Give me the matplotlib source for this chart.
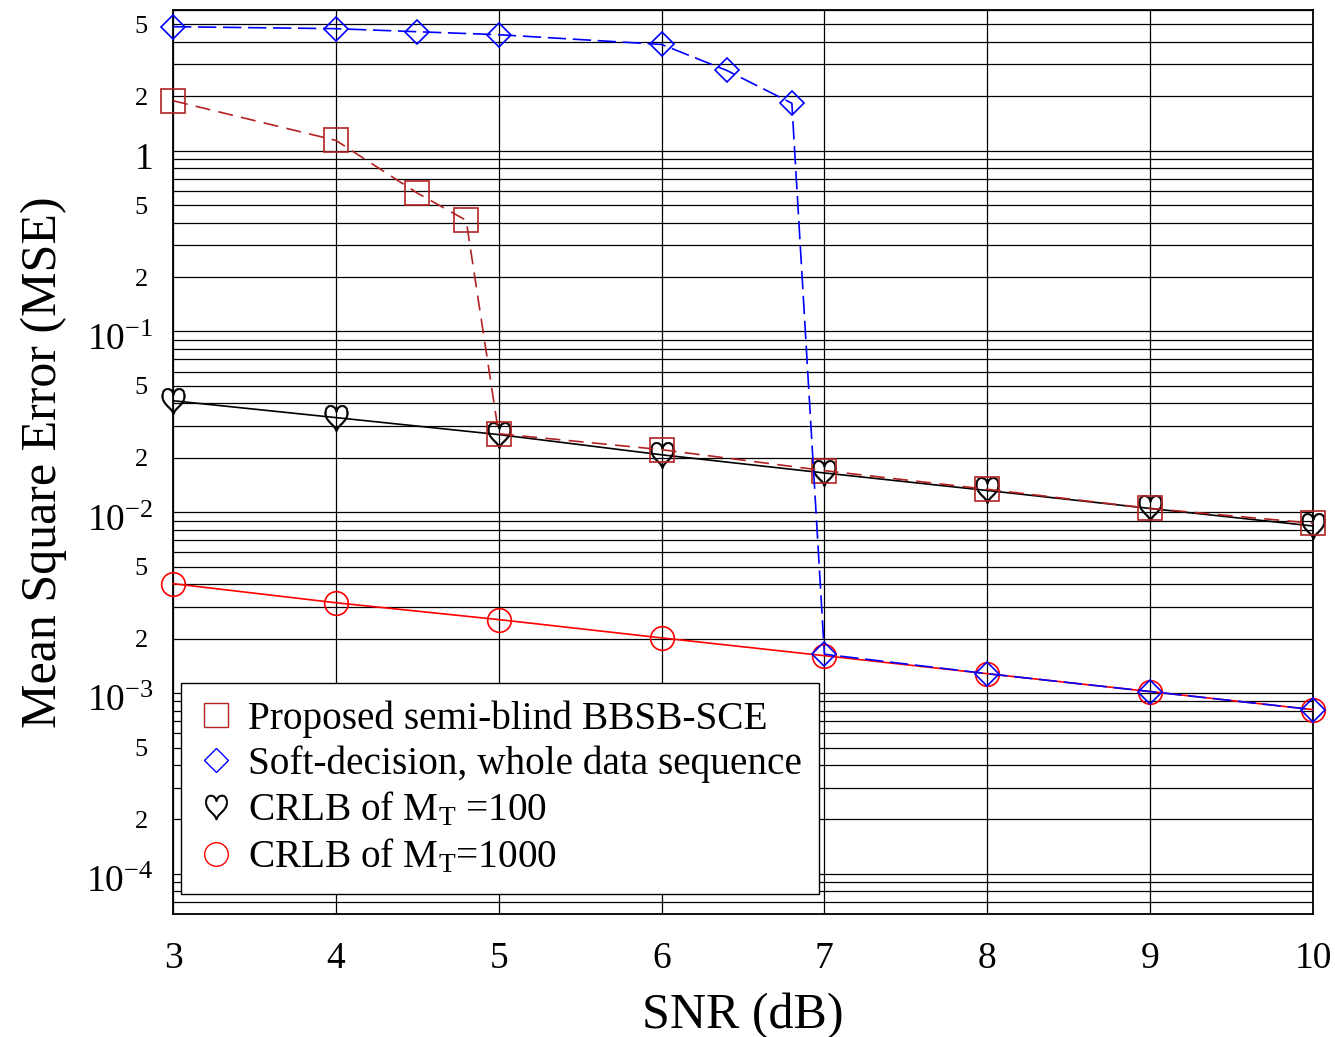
import matplotlib
matplotlib.use("Agg")
import matplotlib.pyplot as plt
import matplotlib.transforms as mtransforms
from matplotlib.ticker import LogLocator, FuncFormatter
from matplotlib.lines import Line2D
import numpy as np

plt.rcParams['font.family'] = ['Liberation Serif', 'DejaVu Serif']
plt.rcParams['mathtext.fontset'] = 'custom'
plt.rcParams['mathtext.rm'] = 'Liberation Serif'
plt.rcParams['mathtext.it'] = 'Liberation Serif:italic'
plt.rcParams['mathtext.bf'] = 'Liberation Serif:bold'

# ---- data ----
snr_prop = [3, 4, 4.5, 4.8, 5, 6, 7, 8, 9, 10]
mse_prop = [1.89, 1.14, 0.583, 0.412, 0.0272, 0.0222, 0.0170, 0.0134, 0.0105, 0.0087]

snr_soft = [3, 4, 4.5, 5, 6, 6.4, 6.8, 7, 8, 9, 10]
mse_soft = [4.85, 4.73, 4.55, 4.38, 3.87, 2.78, 1.83, 1.64e-3, 1.28e-3, 1.02e-3, 8.1e-4]

snr_crlb = [3, 4, 5, 6, 7, 8, 9, 10]
mse_crlb100 = [0.0414, 0.0334, 0.0269, 0.0208, 0.0165, 0.0132, 0.0105, 0.0084]
mse_crlb1000 = [4.03e-3, 3.16e-3, 2.55e-3, 2.02e-3, 1.61e-3, 1.28e-3, 1.02e-3, 0.81e-3]

labels = ["Proposed semi-blind BBSB-SCE",
          "Soft-decision, whole data sequence",
          r"CRLB of M$_{\mathrm{T}}$ =100",
          r"CRLB of M$_{\mathrm{T}}$=1000"]
xticks = [3, 4, 5, 6, 7, 8, 9, 10]

fig = plt.figure(figsize=(13.35, 10.37), dpi=100)
ax = fig.add_axes([173/1335, 1 - 914/1037, (1313-173)/1335, (914-10)/1037])

brown = '#B22222'
ax.plot(snr_crlb, mse_crlb1000, color='red', lw=1.2, marker='o', ms=17,
        mfc='none', mec='red', mew=1.2, zorder=3, clip_on=False)
ax.plot(snr_crlb, mse_crlb100, color='black', lw=1.2, marker=r'$\heartsuit$', ms=19,
        mec='black', mew=0.5, zorder=4, clip_on=False)
ax.plot(snr_prop, mse_prop, color=brown, lw=1.2, dashes=(9, 5), marker='s', ms=17,
        mfc='none', mec=brown, mew=1.2, zorder=5, clip_on=False)
ax.plot(snr_soft, mse_soft, color='blue', lw=1.2, dashes=(11, 4), marker='D', ms=12.5,
        mfc='none', mec='blue', mew=1.2, zorder=6, clip_on=False)

ax.set_yscale('log')
ax.set_xlim(3, 10)
ax.set_ylim(6e-5, 6)
ax.set_xticks(xticks)
ax.set_xticklabels([str(x) for x in xticks])

ax.yaxis.set_major_locator(LogLocator(base=10, numticks=20))
ax.yaxis.set_minor_locator(LogLocator(base=10, subs=np.arange(2, 10), numticks=50))

def major_fmt(v, pos):
    e = int(round(np.log10(v)))
    if e == 0:
        return "1"
    return r"$\mathregular{10^{%d}}$" % e

def minor_fmt(v, pos):
    e = np.floor(np.log10(v) + 1e-9)
    m = v / 10**e
    if abs(m - 2) < 0.01 or abs(m - 5) < 0.01:
        return "%d" % round(m)
    return ""

ax.yaxis.set_major_formatter(FuncFormatter(major_fmt))
ax.yaxis.set_minor_formatter(FuncFormatter(minor_fmt))

ax.tick_params(axis='x', which='major', labelsize=27, pad=20, direction='in', length=0)
ax.tick_params(axis='y', which='major', labelsize=27, pad=14, direction='in', length=0)
ax.tick_params(axis='y', which='minor', labelsize=19, pad=18, direction='in', length=0)

ax.grid(True, which='major', color='black', lw=0.9)
ax.grid(True, which='minor', axis='y', color='black', lw=0.9)
ax.set_axisbelow(True)
for s in ax.spines.values():
    s.set_linewidth(1.3)
    s.set_color('black')

ax.set_xlabel("SNR (dB)", fontsize=36, labelpad=12)
ax.set_ylabel("Mean Square Error (MSE)", fontsize=36, labelpad=14)

handles = [
    Line2D([], [], ls='none', marker='s', ms=17, mfc='none', mec=brown, mew=1.0),
    Line2D([], [], ls='none', marker='D', ms=12, mfc='none', mec='blue', mew=1.0),
    Line2D([], [], ls='none', marker=r'$\heartsuit$', ms=18, mec='black', mew=0.5, color='black'),
    Line2D([], [], ls='none', marker='o', ms=17, mfc='none', mec='red', mew=1.0),
]
leg = ax.legend(handles, labels, loc='lower left', bbox_to_anchor=(8/1140, 20/904),
                borderaxespad=0, fontsize=28.3, frameon=True, fancybox=False,
                edgecolor='black', framealpha=1, handlelength=0.9, handletextpad=0.35,
                labelspacing=0.2, borderpad=0.45)
leg.get_frame().set_linewidth(1.0)
leg.set_zorder(10)

# shift major y tick labels slightly down, as in the reference
fig.canvas.draw()
offset = mtransforms.ScaledTranslation(0, -5/100, fig.dpi_scale_trans)
for lbl in ax.yaxis.get_majorticklabels():
    lbl.set_transform(lbl.get_transform() + offset)

fig.savefig("out.png", dpi=100)
